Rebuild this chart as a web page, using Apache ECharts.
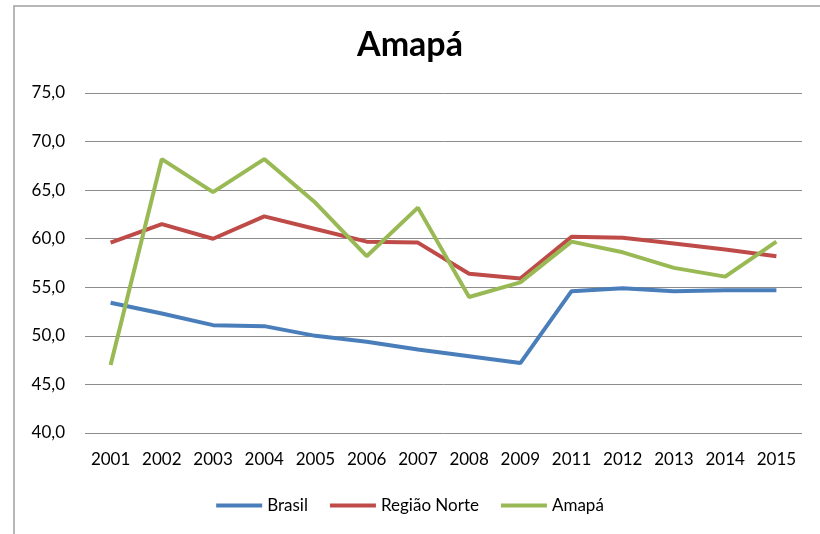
<!doctype html>
<html>
<head>
<meta charset="utf-8">
<title>Amapá</title>
<script src="https://cdn.jsdelivr.net/npm/echarts@6/dist/echarts.min.js"></script>
<style>
  html, body { margin: 0; padding: 0; background: #fff; }
  #chart { width: 820px; height: 534px; }
</style>
</head>
<body>
<div id="chart"></div>
<script>
var anos = ['2001', '2002', '2003', '2004', '2005', '2006', '2007', '2008', '2009', '2011', '2012', '2013', '2014', '2015'];
var brasil = [53.4, 52.3, 51.1, 51.0, 50.0, 49.4, 48.6, 47.9, 47.2, 54.6, 54.9, 54.6, 54.7, 54.7];
var regiaoNorte = [59.6, 61.5, 60.0, 62.3, 61.0, 59.7, 59.6, 56.4, 55.9, 60.2, 60.1, 59.5, 58.9, 58.2];
var amapa = [47.0, 68.2, 64.8, 68.2, 63.7, 58.2, 63.2, 54.0, 55.5, 59.7, 58.6, 57.0, 56.1, 59.7];

var fonte = 'Lato, "Noto Sans", sans-serif';

function serie(nome, dados, cor) {
  return {
    name: nome,
    type: 'line',
    data: dados,
    symbol: 'none',
    lineStyle: { color: cor, width: 4 },
    itemStyle: { color: cor }
  };
}

var chart = echarts.init(document.getElementById('chart'));
chart.setOption({
  animation: false,
  graphic: [{
    type: 'rect',
    shape: { x: 14, y: 6, width: 830, height: 560 },
    style: { fill: 'none', stroke: '#a0a0a0', lineWidth: 1.5 },
    silent: true
  }],
  title: {
    text: 'Amapá',
    left: 'center',
    top: 23,
    textStyle: { fontFamily: fonte, fontSize: 34, fontWeight: 'bold', color: '#000' }
  },
  legend: {
    bottom: 15,
    left: 'center',
    itemWidth: 46,
    itemHeight: 4,
    itemGap: 22,
    icon: 'rect',
    textStyle: { fontFamily: fonte, fontSize: 17, color: '#000' },
    data: ['Brasil', 'Região Norte', 'Amapá']
  },
  grid: { left: 85, right: 18, top: 93, bottom: 101 },
  xAxis: {
    type: 'category',
    data: anos,
    boundaryGap: true,
    axisLine: { show: false },
    axisTick: { show: false },
    axisLabel: { fontFamily: fonte, fontSize: 17, color: '#000', margin: 18, interval: 0 }
  },
  yAxis: {
    type: 'value',
    min: 40,
    max: 75,
    interval: 5,
    axisLine: { show: false },
    axisTick: { show: false },
    axisLabel: {
      fontFamily: fonte, fontSize: 17, color: '#000', margin: 20,
      formatter: function (v) { return v.toFixed(1).replace('.', ','); }
    },
    splitLine: { lineStyle: { color: '#8c8c8c', width: 1 } }
  },
  series: [
    serie('Brasil', brasil, '#4a7ebb'),
    serie('Região Norte', regiaoNorte, '#be4b48'),
    serie('Amapá', amapa, '#98b954')
  ]
});
</script>
</body>
</html>
